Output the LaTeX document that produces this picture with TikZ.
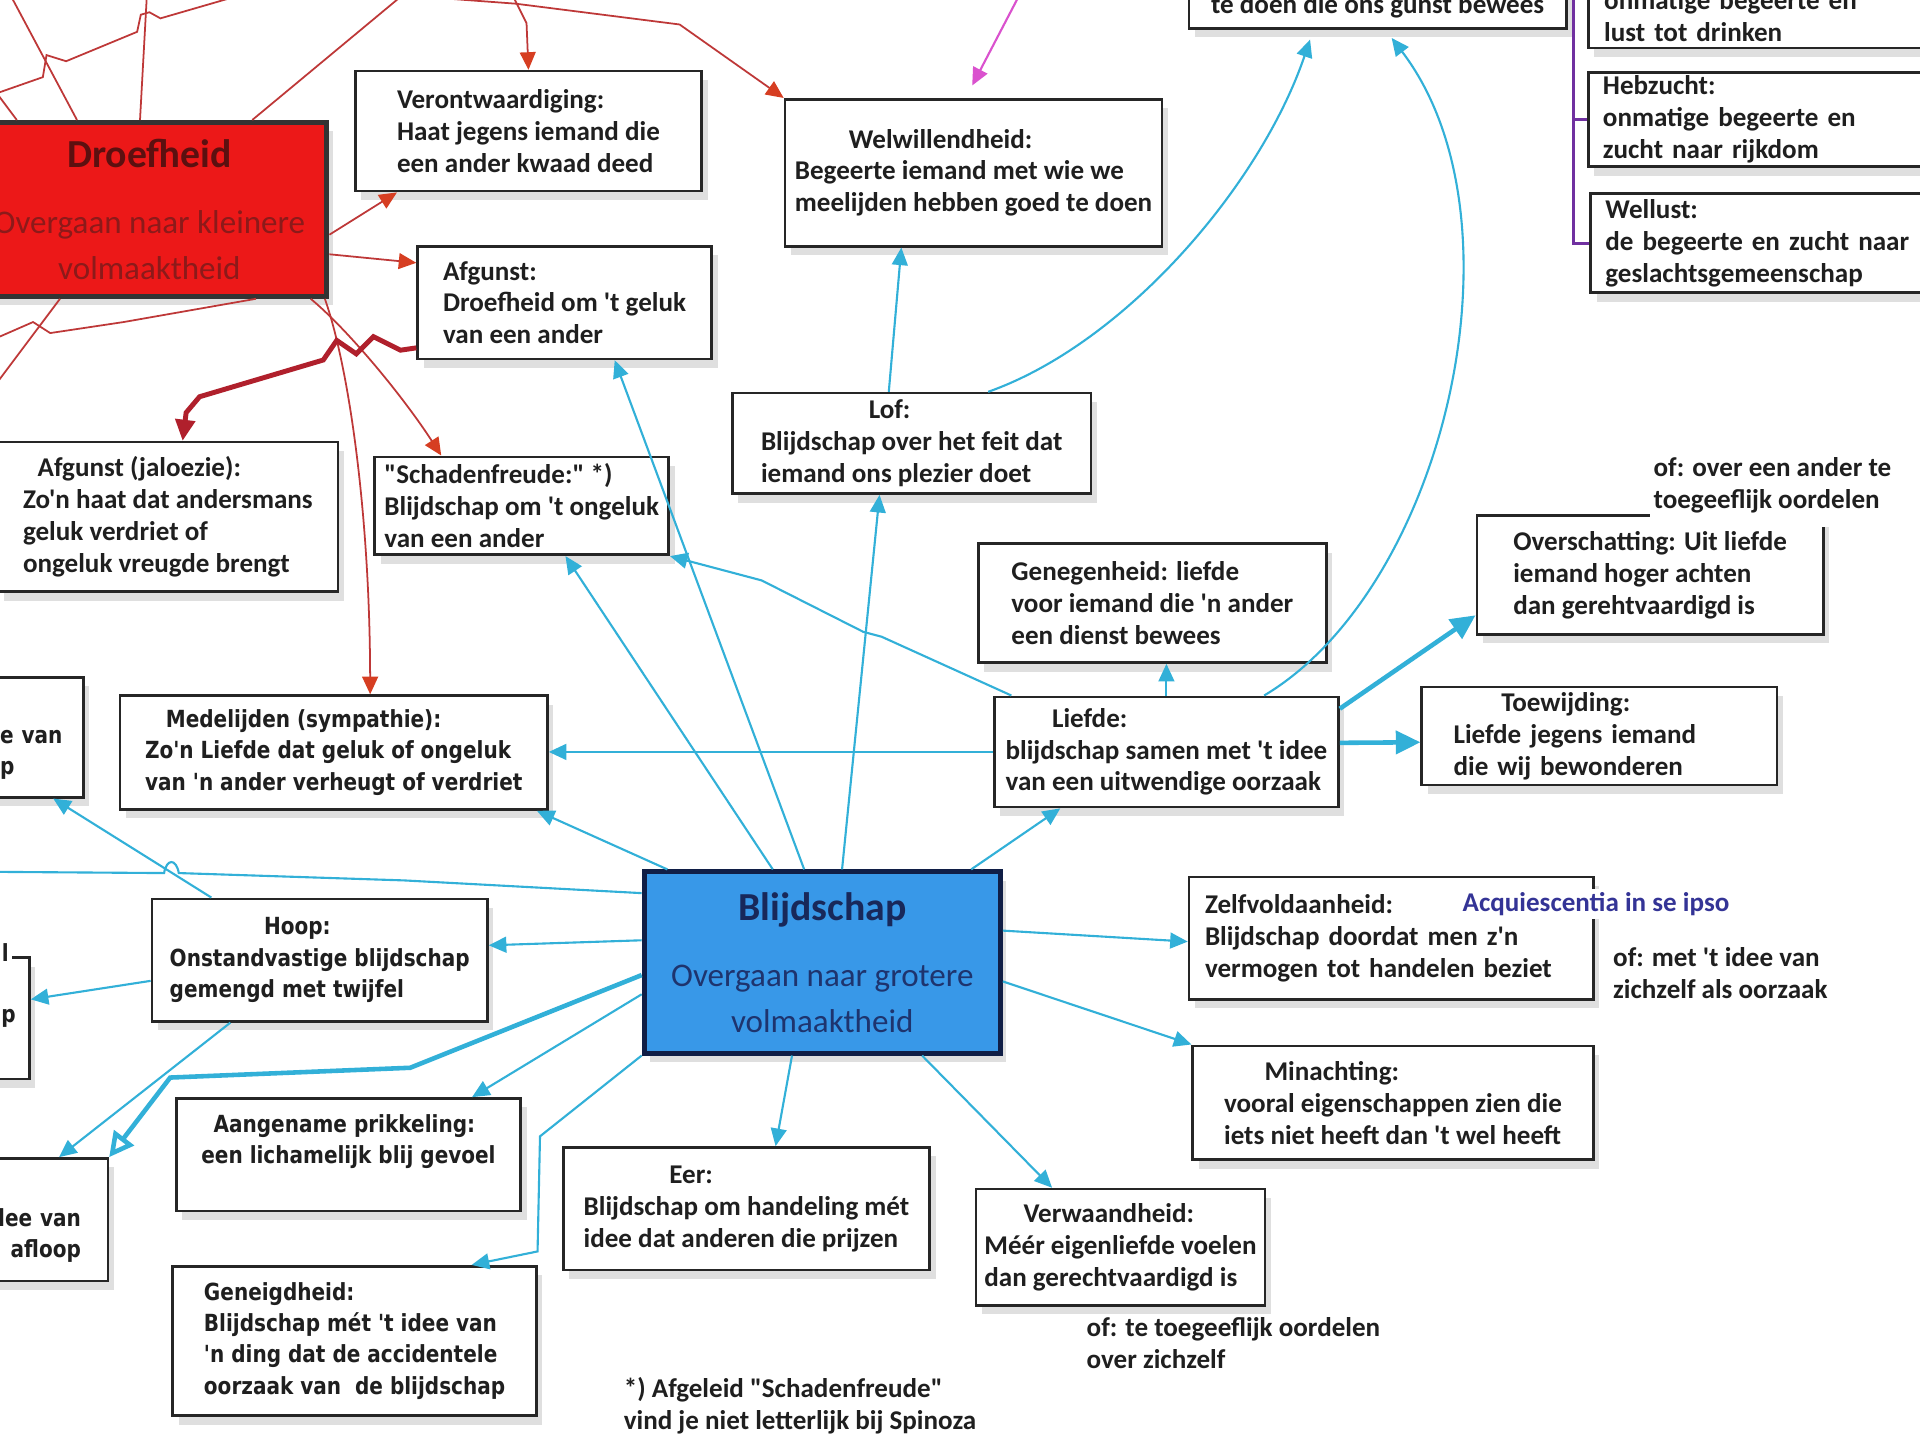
\documentclass[tikz,border=0pt]{standalone}
\usepackage{fontspec}
\usetikzlibrary{arrows.meta,shadows}
\newfontfamily\calib[Ligatures=TeXOff]{Carlito}
\newfontfamily\verd[Ligatures=TeXOff,FakeStretch=0.85]{DejaVu Sans}
\newlength\dpx \setlength\dpx{0.012245cm}
\definecolor{lichtblauw}{RGB}{50,176,216}
\definecolor{rood}{RGB}{190,56,56}
\definecolor{roodpunt}{RGB}{214,62,34}
\definecolor{donkerrood}{RGB}{176,32,44}
\definecolor{roze}{RGB}{218,82,206}
\definecolor{paars}{RGB}{112,48,160}
\definecolor{droefrood}{RGB}{236,24,24}
\definecolor{droeftitel}{RGB}{92,16,16}
\definecolor{droeftekst}{RGB}{140,26,26}
\definecolor{blijblauw}{RGB}{56,152,232}
\definecolor{blijrand}{RGB}{16,30,70}
\definecolor{blijtitel}{RGB}{24,40,90}
\definecolor{blijtekst}{RGB}{30,52,110}
\definecolor{acqblauw}{RGB}{52,52,150}
\tikzset{
  kader/.style={draw=black!85, line width=0.75pt, fill=white, anchor=north west,
    align=left, inner xsep=2pt, inner ysep=1pt, text=black!88,
    font=\calib\bfseries\fontsize{7.7}{9.05}\selectfont,
    drop shadow={opacity=0.25, shadow xshift=0.6mm, shadow yshift=-0.9mm}},
  breedkader/.style={kader, font=\verd\bfseries\fontsize{6.7}{8.9}\selectfont},
  hoofd/.style={kader, line width=1.4pt, align=center, font=\calib\fontsize{9.4}{12.9}\selectfont},
  opmerking/.style={anchor=west, align=left, fill=white, inner sep=1pt, text=black!88,
    font=\calib\bfseries\fontsize{7.7}{9.05}\selectfont},
  pijl/.style={draw=lichtblauw, line width=0.6pt, -{Triangle[length=5pt,width=4.5pt]}},
  dikpijl/.style={draw=lichtblauw, line width=1.3pt, -{Triangle[length=7pt,width=6.5pt]}},
  roodpijl/.style={draw=rood, line width=0.5pt, -{Triangle[length=5pt,width=4.5pt,color=roodpunt]}},
  roodlijn/.style={draw=rood, line width=0.5pt},
  paarslijn/.style={draw=paars, line width=0.8pt}
}
\begin{document}
\begin{tikzpicture}[x=0.012245cm, y=-0.012245cm]
    \useasboundingbox (0,0) rectangle (1568,1176);
    \clip (0,0) rectangle (1568,1176);
    \fill[white] (0,0) rectangle (1568,1176);

    % Hoofdkaders
    \node (droef) at (-25,98) [hoofd, fill=droefrood, draw=black!80, minimum width=290\dpx, minimum height=142\dpx, text=droeftekst] {{\bfseries\fontsize{11.3}{12.9}\selectfont\color{droeftitel}Droefheid}\\[5.9pt]Overgaan naar kleinere\\volmaaktheid};
    \node (blij) at (524,710) [hoofd, fill=blijblauw, draw=blijrand, minimum width=291\dpx, minimum height=148\dpx, text=blijtekst] {{\bfseries\fontsize{11.3}{12.9}\selectfont\color{blijtitel}Blijdschap}\\[5.9pt]Overgaan naar grotere\\volmaaktheid};

    % Kaders bovenaan
    \node (veront) at (289,57) [kader, minimum width=283\dpx, minimum height=98\dpx] {Verontwaardiging:\\Haat jegens iemand die\\een ander kwaad deed};
    \node (afgunst) at (340,200) [kader, minimum width=240\dpx, minimum height=92\dpx] {Afgunst:\\Droefheid om 't geluk\\van een ander};
    \node (welwil) at (640,80) [kader, minimum width=308\dpx, minimum height=120\dpx] {\hspace*{44\dpx}Welwillendheid:\\Begeerte iemand met wie we\\meelijden hebben goed te doen};
    \node (lof) at (597,320) [kader, minimum width=293\dpx, minimum height=82\dpx] {\hspace*{88\dpx}Lof:\\Blijdschap over het feit dat\\iemand ons plezier doet};
    \node (tedoen) at (970,-14) [kader, minimum width=308\dpx, minimum height=36\dpx] {te doen die ons gunst bewees};
    \node (lust) at (1296,-14) [kader, minimum width=310\dpx, minimum height=52\dpx, text width=284\dpx, inner xsep=13\dpx] {onmatige begeerte en\\lust tot drinken};
    \node (hebz) at (1296,58) [kader, minimum width=310\dpx, minimum height=77\dpx, text width=286\dpx, inner xsep=12\dpx] {Hebzucht:\\onmatige begeerte en\\zucht naar rijkdom};
    \node (wellust) at (1298,157) [kader, minimum width=310\dpx, minimum height=81\dpx, text width=286\dpx, inner xsep=12\dpx] {Wellust:\\de begeerte en zucht naar\\geslachtsgemeenschap};

    % Kaders in het midden
    \node (jaloezie) at (-3,360) [kader, minimum width=278\dpx, minimum height=122\dpx] {\hspace*{12\dpx}Afgunst (jaloezie):\\Zo'n haat dat andersmans\\geluk verdriet of\\ongeluk vreugde brengt};
    \node (schade) at (305,372) [kader, minimum width=240\dpx, minimum height=80\dpx] {"Schadenfreude:" *)\\Blijdschap om 't ongeluk\\van een ander};
    \node (geneg) at (798,443) [kader, minimum width=284\dpx, minimum height=97\dpx] {Genegenheid: liefde\\voor iemand die 'n ander\\een dienst bewees};
    \node (oversch) at (1205,420) [kader, minimum width=283\dpx, minimum height=97\dpx] {Overschatting: Uit liefde\\iemand hoger achten\\dan gerehtvaardigd is};
    \node (liefde) at (811,568) [kader, minimum width=281\dpx, minimum height=90\dpx] {\hspace*{38\dpx}Liefde:\\blijdschap samen met 't idee\\van een uitwendige oorzaak};
    \node (toew) at (1160,560) [kader, minimum width=290\dpx, minimum height=80\dpx, text width=238\dpx, inner xsep=26\dpx] {\hspace*{39\dpx}Toewijding:\\Liefde jegens iemand\\die wij bewonderen};
    \node (medel) at (97,567) [breedkader, minimum width=349\dpx, minimum height=93\dpx] {\hspace*{17\dpx}Medelijden (sympathie):\\Zo'n Liefde dat geluk of ongeluk\\van 'n ander verheugt of verdriet};
    \node (partL1) at (-120,552) [breedkader, minimum width=187\dpx, minimum height=98\dpx, text width=179\dpx, inner xsep=4\dpx] {\rule{0pt}{5pt}\\\hspace*{115\dpx}e van\\\hspace*{115\dpx}p};

    % Kaders onderaan
    \node (hoop) at (123,733) [breedkader, minimum width=274\dpx, minimum height=100\dpx] {\hspace*{77\dpx}Hoop:\\Onstandvastige blijdschap\\gemengd met twijfel};
    \node (partL2) at (-150,781) [breedkader, minimum width=173\dpx, minimum height=99\dpx, text width=165\dpx, inner xsep=4\dpx] {\hspace*{146\dpx}p};
    \node (partL3) at (-150,945) [breedkader, minimum width=237\dpx, minimum height=100\dpx, text width=193\dpx, inner xsep=22\dpx, align=right] {\rule{0pt}{5pt}\\lee van\\afloop};
    \node (zelf) at (970,715) [kader, minimum width=330\dpx, minimum height=100\dpx, text width=304\dpx, inner xsep=13\dpx] {Zelfvoldaanheid:\\Blijdschap doordat men z'n\\vermogen tot handelen beziet};
    \node (minacht) at (973,853) [kader, minimum width=327\dpx, minimum height=93\dpx] {\hspace*{33\dpx}Minachting:\\vooral eigenschappen zien die\\iets niet heeft dan 't wel heeft};
    \node (aangen) at (143,896) [breedkader, minimum width=281\dpx, minimum height=92\dpx] {\hspace*{10\dpx}Aangename prikkeling:\\een lichamelijk blij gevoel\\\mbox{}};
    \node (eer) at (459,936) [kader, minimum width=299\dpx, minimum height=100\dpx] {\hspace*{70\dpx}Eer:\\Blijdschap om handeling mét\\idee dat anderen die prijzen};
    \node (verwaand) at (796,970) [kader, minimum width=236\dpx, minimum height=95\dpx] {\hspace*{32\dpx}Verwaandheid:\\Méér eigenliefde voelen\\dan gerechtvaardigd is};
    \node (geneigd) at (140,1033) [breedkader, minimum width=297\dpx, minimum height=122\dpx] {Geneigdheid:\\Blijdschap mét 't idee van\\'n ding dat de accidentele\\oorzaak van\ \ de blijdschap};

    % Losse teksten
    \node (brokje) at (-2,778) [opmerking, font=\verd\bfseries\fontsize{6.7}{8.9}\selectfont] {l};
    \node (ofover) at (1347,396) [opmerking, inner ysep=4pt] {of: over een ander te\\toegeeflijk oordelen};
    \node (acq) at (1191,738) [opmerking, text=acqblauw] {Acquiescentia in se ipso};
    \node (ofmet) at (1314,795) [opmerking] {of: met 't idee van\\zichzelf als oorzaak};
    \node (ofte) at (884,1097) [opmerking] {of: te toegeeflijk oordelen\\over zichzelf};
    \node (voetnoot) at (506,1148) [opmerking] {*) Afgeleid "Schadenfreude"\\vind je niet letterlijk bij Spinoza};

    % Losse eindpunten
    \coordinate (rl1) at (8,-5);
    \coordinate (rl2) at (120,-5);
    \coordinate (rl3) at (330,-5);
    \coordinate (rl4) at (-5,77);
    \coordinate (rl5) at (200,-5);
    \coordinate (rl6) at (-5,73);
    \coordinate (rl7) at (-5,277);
    \coordinate (rl8) at (-5,316);
    \coordinate (boven1) at (340,-3);
    \coordinate (boven2) at (418,-5);
    \coordinate (rozestart) at (833,-5);
    \coordinate (paarstop) at (1285,-5);
    \coordinate (links1) at (-5,712);

    % Rode lijnen
    \draw[roodlijn] (droef.129) -- (rl1);
    \draw[roodlijn] (droef.96) -- (rl2);
    \draw[roodlijn] (droef.41) -- (rl3);
    \draw[roodlijn] (rl4) -- (35,63) -- (38,45) -- (54,50) -- (112,26) -- (115,12) -- (122,10) -- (131,15) -- (rl5);
    \draw[roodlijn] (rl6) -- (droef.146);
    \draw[roodlijn] (rl7) -- (27,263) -- (41,272) -- (101,263) -- (droef.-40);
    \draw[roodlijn] (droef.-135) -- (rl8);
    \draw[roodpijl] (boven1) -- (421,3) -- (555,20) -- (welwil.north west);
    \draw[roodpijl] (boven2) -- (430,19) -- (veront.north);
    \draw[roodpijl] (droef.-8) -- (veront.-155);
    \draw[roodpijl] (droef.-14) -- (afgunst.165);
    \draw[roodpijl] (droef.-29) .. controls (285,270) and (330,325) .. (schade.148);
    \draw[roodpijl] (droef.-27) .. controls (285,300) and (302,420) .. (medel.58);
    \draw[draw=donkerrood, line width=1.4pt, -{Triangle[length=6pt,width=5.5pt]}] (afgunst.197) -- (327,286) -- (305,275) -- (291,289) -- (275,278) -- (264,294) -- (163,324) -- (152,337) -- (jaloezie.79);

    % Roze en paars
    \draw[draw=roze, line width=0.6pt, -{Triangle[length=5pt,width=4.5pt]}, shorten >=4pt] (rozestart) -- (welwil.96);
    \draw[paarslijn] (paarstop) |- (wellust.west);
    \draw[paarslijn] (paarstop |- hebz.west) -- (hebz.west);

    % Blauwe pijlen
    \draw[pijl] (blij.101) -- (afgunst.-49);
    \draw[pijl] (blij.118) -- (schade.-49);
    \draw[pijl] (blij.78) -- (lof.-122);
    \draw[pijl] (lof.114) -- (welwil.-134);
    \draw[pijl, shorten >=3pt] (lof.34) .. controls (920,280) and (1030,150) .. (tedoen.-160);
    \draw[pijl, shorten >=3pt] (liefde.30) .. controls (1180,480) and (1250,180) .. (tedoen.-72);
    \draw[pijl] (liefde.north) -- (liefde.north |- geneg.south);
    \draw[dikpijl] (liefde.14) -- (oversch.193);
    \draw[dikpijl] (liefde.3) -- (toew.182);
    \draw[pijl] (liefde.west) -- (liefde.west -| medel.east);
    \draw[pijl] (liefde.160) -- (720,520) -- (705,516) -- (622,474) -- (schade.south east);
    \draw[pijl] (blij.32) -- (liefde.-152);
    \draw[pijl] (blij.149) -- (medel.-16);
    \draw[draw=lichtblauw, line width=0.6pt] (blij.159) -- (330,719) -- (146,713) .. controls (144,701) and (136,701) .. (134,713) -- (links1);
    \draw[pijl] (hoop.150) -- (partL1.-36);
    \draw[pijl] (blij.173) -- (hoop.5);
    \draw[pijl] (hoop.187) -- (partL2.10);
    \draw[pijl] (hoop.215) -- (partL3.33);
    \draw[draw=lichtblauw, line width=1.3pt, -{Triangle[open,length=7pt,width=7pt]}] (blij.184) -- (335,872) -- (139,880) -- (partL3.north east);
    \draw[pijl] (blij.190) -- (aangen.25);
    \draw[pijl] (blij.south west) -- (441,928) -- (439,1022) -- (geneigd.33);
    \draw[pijl] (blij.-108) -- (eer.65);
    \draw[pijl] (blij.-43) -- (verwaand.139);
    \draw[pijl] (blij.10) -- (zelf.181);
    \draw[pijl] (blij.-6) -- (minacht.north west);
\end{tikzpicture}
\end{document}
